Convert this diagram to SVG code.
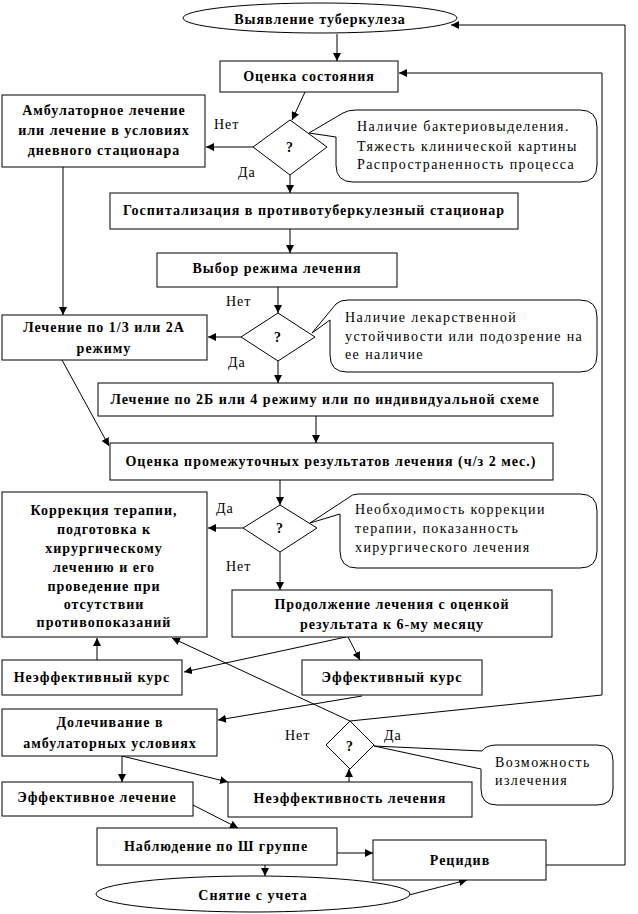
<svg xmlns="http://www.w3.org/2000/svg" width="638" height="914" viewBox="0 0 638 914">
<defs>
<marker id="ah" viewBox="0 0 10 10" refX="10" refY="5" markerWidth="8" markerHeight="8" markerUnits="userSpaceOnUse" orient="auto">
<path d="M0,0 L10,5 L0,10 Z" fill="#000"/>
</marker>
</defs>
<style>
.b{fill:#fff;stroke:#000;stroke-width:1}
.t{font-family:"Liberation Serif","Times New Roman",serif;font-size:14px;font-weight:bold;text-anchor:middle;letter-spacing:1px;fill:#000}
.n{font-family:"Liberation Serif","Times New Roman",serif;font-size:14px;letter-spacing:1.4px;fill:#000}
.l{font-family:"Liberation Serif","Times New Roman",serif;font-size:14px;letter-spacing:1px;fill:#000}
.c{fill:none;stroke:#000;stroke-width:1}
.a{fill:none;stroke:#000;stroke-width:1;marker-end:url(#ah)}
</style>
<rect width="638" height="914" fill="#fff"/>
<g id="connectors">
<line class="a" x1="337" y1="34" x2="337" y2="61"/>
<line class="a" x1="305" y1="92" x2="292" y2="120"/>
<line class="a" x1="253" y1="147" x2="206" y2="147"/>
<line class="a" x1="290" y1="175" x2="290" y2="193"/>
<line class="a" x1="63" y1="167" x2="63" y2="315"/>
<line class="a" x1="290" y1="229" x2="290" y2="253"/>
<line class="a" x1="278" y1="287" x2="278" y2="313"/>
<line class="a" x1="241" y1="337" x2="208" y2="337"/>
<line class="a" x1="278" y1="361" x2="278" y2="383"/>
<line class="a" x1="62" y1="360" x2="109" y2="446"/>
<line class="a" x1="316" y1="416" x2="316" y2="443"/>
<line class="a" x1="280" y1="480" x2="280" y2="505"/>
<line class="a" x1="243" y1="528" x2="208" y2="528"/>
<line class="a" x1="280" y1="552" x2="280" y2="590"/>
<line class="a" x1="346" y1="637" x2="184" y2="672"/>
<line class="a" x1="348" y1="637" x2="360" y2="660"/>
<line class="a" x1="97" y1="660" x2="97" y2="638"/>
<line class="a" x1="362" y1="696" x2="218" y2="720"/>
<polyline class="a" points="602,695 602,73 399,73"/>
<line class="c" x1="602" y1="695" x2="350" y2="721"/>
<line class="a" x1="350" y1="721" x2="172" y2="638"/>
<line class="a" x1="349" y1="782" x2="349" y2="769"/>
<line class="a" x1="122" y1="756" x2="122" y2="782"/>
<line class="a" x1="122" y1="756" x2="228" y2="782"/>
<line class="a" x1="193" y1="805" x2="238" y2="828"/>
<line class="a" x1="337" y1="853" x2="373" y2="853"/>
<polyline class="a" points="546,865 625,865 625,25 451,25"/>
<line class="a" x1="265" y1="865" x2="265" y2="876"/>
<line class="a" x1="409" y1="895" x2="467" y2="880"/>
</g>
<g id="n1"><ellipse class="b" cx="320" cy="18" rx="137" ry="15"/><text class="t" x="320" y="24">Выявление туберкулеза</text></g>
<g id="n2"><rect class="b" x="220" y="61" width="178" height="31"/><text class="t" x="309" y="81">Оценка состояния</text></g>
<g id="n3"><rect class="b" x="2" y="95" width="203" height="72"/><text class="t" x="104" y="115">Амбулаторное лечение</text><text class="t" x="104" y="135">или лечение в условиях</text><text class="t" x="104" y="155">дневного стационара</text></g>
<g id="d1"><polygon class="b" points="290,120 327,147 290,175 253,147"/><text class="t" x="290" y="152">?</text><text class="l" x="214" y="129">Нет</text><text class="l" x="238" y="177">Да</text></g>
<g id="c1"><path class="b" d="M336,137 L309,133 L343,113 Q348,110 356,110 L580,110 Q597,110 597,127 L597,165 Q597,182 580,182 L353,182 Q336,182 336,165 Z"/><text class="n" x="357" y="131">Наличие бактериовыделения.</text><text class="n" x="357" y="151">Тяжесть клинической картины</text><text class="n" x="357" y="169">Распространенность процесса</text></g>
<g id="n4"><rect class="b" x="110" y="193" width="408" height="36"/><text class="t" x="314" y="215">Госпитализация в противотуберкулезный стационар</text></g>
<g id="n5"><rect class="b" x="157" y="253" width="240" height="34"/><text class="t" x="277" y="273">Выбор режима лечения</text></g>
<g id="d2"><polygon class="b" points="278,313 315,337 278,361 241,337"/><text class="t" x="278" y="342">?</text><text class="l" x="226" y="306">Нет</text><text class="l" x="228" y="367">Да</text></g>
<g id="c2"><path class="b" d="M330,320 L312,333 L336,304 Q340,300 348,300 L580,300 Q597,300 597,317 L597,355 Q597,372 580,372 L347,372 Q330,372 330,355 Z"/><text class="n" x="345" y="322">Наличие лекарственной</text><text class="n" x="345" y="341">устойчивости или подозрение на</text><text class="n" x="345" y="359">ее наличие</text></g>
<g id="n6"><rect class="b" x="2" y="315" width="205" height="45"/><text class="t" x="104" y="332">Лечение по 1/3 или 2А</text><text class="t" x="104" y="353">режиму</text></g>
<g id="n7"><rect class="b" x="98" y="383" width="455" height="33"/><text class="t" x="325" y="404">Лечение по 2Б или 4 режиму или по индивидуальной схеме</text></g>
<g id="n8"><rect class="b" x="110" y="443" width="443" height="37"/><text class="t" x="331" y="466">Оценка промежуточных результатов лечения (ч/з 2 мес.)</text></g>
<g id="d3"><polygon class="b" points="280,505 317,528 280,552 243,528"/><text class="t" x="280" y="533">?</text><text class="l" x="216" y="513">Да</text><text class="l" x="226" y="571">Нет</text></g>
<g id="c3"><path class="b" d="M340,514 L310,523 L348,498 Q352,494 358,494 L580,494 Q597,494 597,511 L597,551 Q597,568 580,568 L357,568 Q340,568 340,551 Z"/><text class="n" x="355" y="514">Необходимость коррекции</text><text class="n" x="355" y="533">терапии, показанность</text><text class="n" x="355" y="552">хирургического лечения</text></g>
<g id="n9"><rect class="b" x="2" y="492" width="205" height="145"/><text class="t" x="104" y="515">Коррекция терапии,</text><text class="t" x="104" y="534">подготовка к</text><text class="t" x="104" y="553">хирургическому</text><text class="t" x="104" y="572">лечению и его</text><text class="t" x="104" y="591">проведение при</text><text class="t" x="104" y="609">отсутствии</text><text class="t" x="104" y="627">противопоказаний</text></g>
<g id="n10"><rect class="b" x="232" y="590" width="320" height="47"/><text class="t" x="392" y="609">Продолжение лечения с оценкой</text><text class="t" x="392" y="629">результата к 6-му месяцу</text></g>
<g id="n11"><rect class="b" x="2" y="660" width="180" height="35"/><text class="t" x="92" y="682">Неэффективный курс</text></g>
<g id="n12"><rect class="b" x="302" y="660" width="180" height="35"/><text class="t" x="392" y="682">Эффективный курс</text></g>
<g id="n13"><rect class="b" x="2" y="709" width="215" height="47"/><text class="t" x="110" y="727">Долечивание в</text><text class="t" x="110" y="748">амбулаторных условиях</text></g>
<g id="d4"><polygon class="b" points="350,721 374,745 350,769 326,745"/><text class="t" x="350" y="751">?</text><text class="l" x="285" y="740">Нет</text><text class="l" x="384" y="740">Да</text></g>
<g id="c4"><path class="b" d="M481,769 L374,746 L482,751 Q486,745 497,745 L597,745 Q613,745 613,761 L613,789 Q613,805 597,805 L497,805 Q481,805 481,789 Z"/><text class="n" x="495" y="767">Возможность</text><text class="n" x="495" y="785">излечения</text></g>
<g id="n14"><rect class="b" x="2" y="782" width="191" height="34"/><text class="t" x="97" y="802">Эффективное лечение</text></g>
<g id="n15"><rect class="b" x="228" y="782" width="244" height="35"/><text class="t" x="350" y="803">Неэффективность лечения</text></g>
<g id="n16"><rect class="b" x="97" y="828" width="240" height="37"/><text class="t" x="216" y="851">Наблюдение по Ш группе</text></g>
<g id="n17"><rect class="b" x="373" y="840" width="173" height="40"/><text class="t" x="460" y="865">Рецидив</text></g>
<g id="n18"><ellipse class="b" cx="253" cy="894" rx="157" ry="18"/><text class="t" x="253" y="900">Снятие с учета</text></g>
</svg>
